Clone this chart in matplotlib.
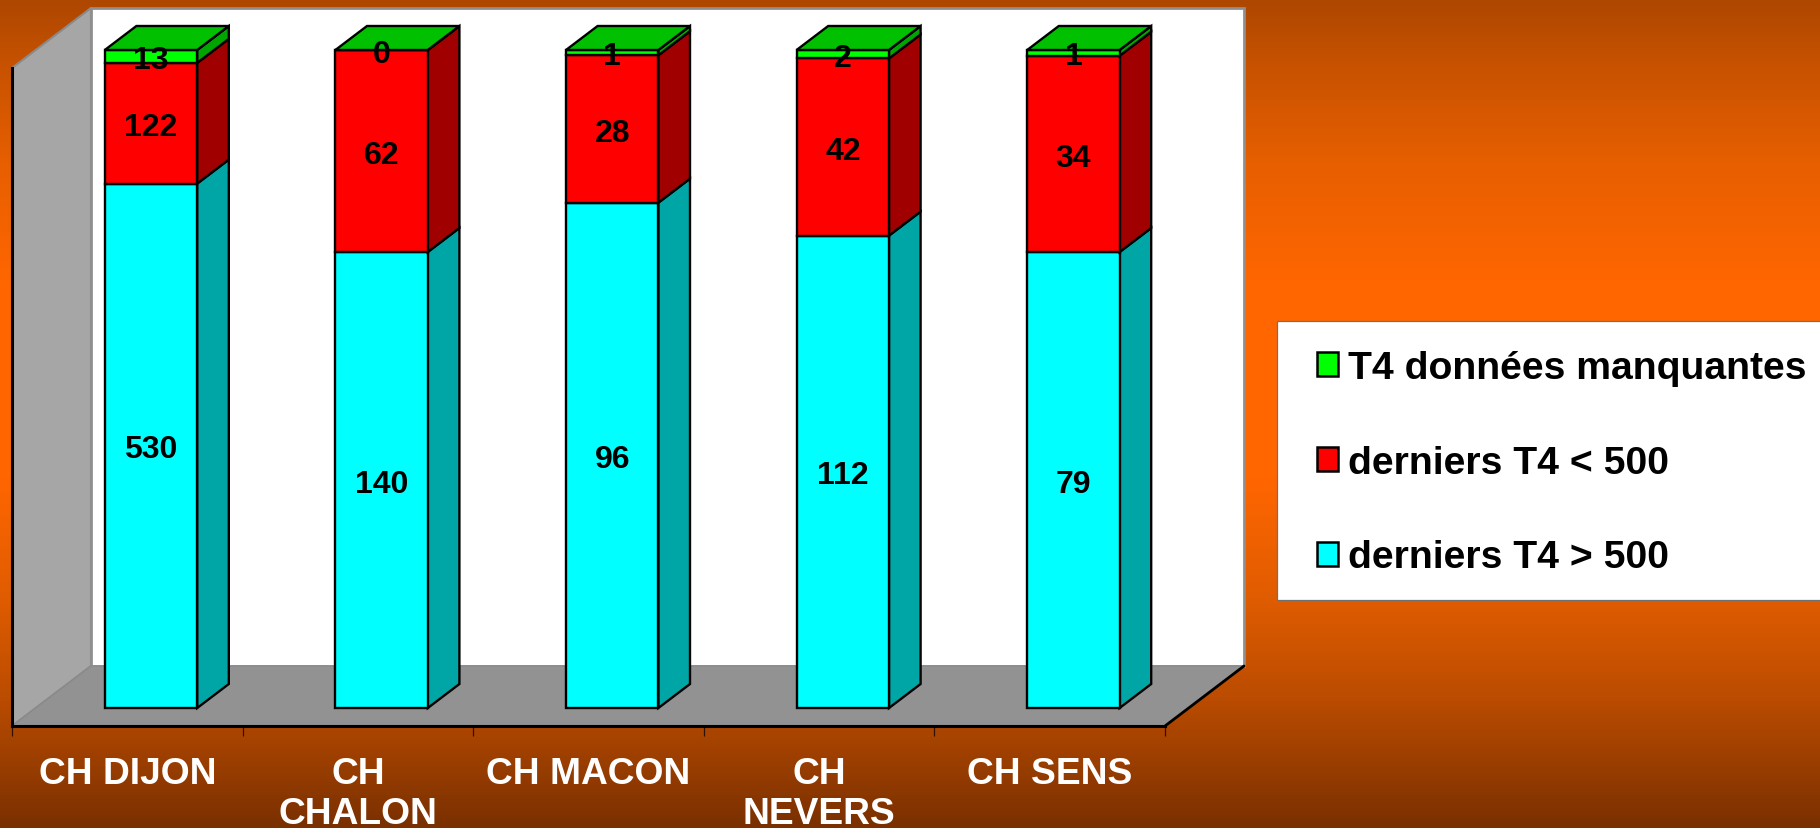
import numpy as np
import matplotlib
matplotlib.use("Agg")
import matplotlib.pyplot as plt
from matplotlib.colors import LinearSegmentedColormap
from matplotlib.patches import Polygon, Patch, Rectangle

categories = ["CH DIJON", "CH\nCHALON", "CH MACON", "CH\nNEVERS", "CH SENS"]
above_500 = [530, 140, 96, 112, 79]
below_500 = [122, 62, 28, 42, 34]
missing = [13, 0, 1, 2, 1]
series_names = ["derniers T4 > 500", "derniers T4 < 500", "T4 données manquantes"]

FRONT = ["#00FFFF", "#FF0000", "#00FF00"]
SIDE = ["#00A5A5", "#A00000", "#00A500"]
TOP = "#00C000"

plt.rcParams["font.family"] = ["Liberation Sans", "DejaVu Sans"]
W, H = 1820, 829
fig = plt.figure(figsize=(W / 100, H / 100), dpi=100)

# background gradient
bg = fig.add_axes([0, 0, 1, 1], zorder=-1)
bg.axis("off")
stops = [(0.0, "#AE4700"), (0.08, "#C85200"), (0.2, "#E85F00"), (0.34, "#FF6600"), (0.58, "#FF6600"),
         (0.724, "#E05C00"), (0.845, "#BB4C00"), (0.95, "#8F3900"), (1.0, "#7A3000")]
cmap = LinearSegmentedColormap.from_list("bg", stops)
bg.imshow(np.linspace(0, 1, 829)[:, None], aspect="auto", cmap=cmap, vmin=0, vmax=1)

# front plane of the 3-D box
ax = fig.add_axes([12 / W, (H - 727) / H, 1153 / W, 658 / H])
ax.set_facecolor("none")
ax.set_xlim(0, 5)
ax.set_ylim(0, 100)

DX = 79 / 230.6   # oblique shift of full depth, in category units
DY = 60 / 6.58    # oblique shift of full depth, in percent units


def pr(x, y, d):
    return (x + DX * d, y + DY * d)


def poly(pts, fc, ec, lw, z):
    ax.add_patch(Polygon([pr(*p) for p in pts], closed=True, fc=fc, ec=ec, lw=lw,
                         joinstyle="miter", clip_on=False, zorder=z))


n = len(categories)
poly([(0, 0, 0), (0, 100, 0), (0, 100, 1), (0, 0, 1)], "#A6A6A6", "#8A8A8A", 1.5, 1)
poly([(0, 0, 1), (0, 100, 1), (n, 100, 1), (n, 0, 1)], "#FFFFFF", "#8F8F8F", 2.0, 1)
poly([(0, 0, 0), (n, 0, 0), (n, 0, 1), (0, 0, 1)], "#929292", "#8A8A8A", 1.0, 2)
ax.plot(*zip(pr(n, 0, 0), pr(n, 0, 1)), color="black", lw=2.0, clip_on=False, zorder=3,
        solid_capstyle="round")

values = np.array([above_500, below_500, missing], dtype=float)
pct = values / values.sum(axis=0) * 100
HW, D0, D1 = 46.2 / 230.6, 0.3, 0.7
EC, LW = "black", 1.7

for i in range(n):
    c = i + 0.5
    base = 0.0
    for s in range(3):
        top = base + pct[s, i]
        z = 4 + s * 0.1 + i
        poly([(c + HW, base, D0), (c + HW, top, D0), (c + HW, top, D1), (c + HW, base, D1)],
             SIDE[s], EC, LW, z)
        poly([(c - HW, base, D0), (c + HW, base, D0), (c + HW, top, D0), (c - HW, top, D0)],
             FRONT[s], EC, LW, z + 0.01)
        base = top
    poly([(c - HW, 100, D0), (c + HW, 100, D0), (c + HW, 100, D1), (c - HW, 100, D1)],
         TOP, EC, LW, 4 + i + 0.5)

for i in range(n):
    c = i + 0.5
    base = 0.0
    for s in range(3):
        mid = base + pct[s, i] / 2
        ax.annotate(f"{int(values[s, i])}", xy=pr(c, mid, D0), xytext=(0, -2.6),
                    textcoords="offset points", ha="center", va="center", color="black",
                    fontsize=23, fontweight="bold", zorder=20, annotation_clip=False)
        base += pct[s, i]

for side in ("top", "right"):
    ax.spines[side].set_visible(False)
for side in ("left", "bottom"):
    ax.spines[side].set_linewidth(2.2)
    ax.spines[side].set_zorder(3)
ax.set_yticks([])
ax.set_xticks(np.arange(n + 1))
ax.set_xticklabels([])
ax.tick_params(axis="x", which="major", length=7.5, width=0.9, color="#301000")
ax.set_xticks(np.arange(n) + 0.5, minor=True)
ax.set_xticklabels(categories, minor=True, color="white", fontsize=26.7, fontweight="bold",
                   linespacing=1.2)
ax.tick_params(axis="x", which="minor", length=0, pad=21.5)

fig.add_artist(Rectangle((1277 / W, (H - 601) / H), 560 / W, 279.5 / H, transform=fig.transFigure,
                         fc="white", ec="#707070", lw=0.9, zorder=5))
handles = [Patch(fc=FRONT[s], ec="black", lw=1.8) for s in (2, 1, 0)]
labels = [series_names[s] for s in (2, 1, 0)]
leg = fig.legend(handles, labels, loc="upper left",
                 bbox_to_anchor=(1317 / W, (H - 351) / H), borderaxespad=0,
                 prop={"size": 28.2, "weight": "bold"}, frameon=False, borderpad=0,
                 labelspacing=1.5, handlelength=0.54, handleheight=0.56, handletextpad=0.25)
leg.set_zorder(6)

fig.savefig("out.png", dpi=100)
